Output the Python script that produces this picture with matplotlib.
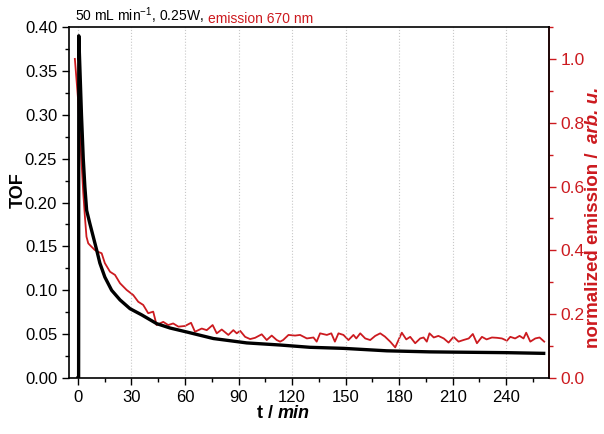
import numpy as np
import matplotlib.pyplot as plt
from matplotlib.ticker import MultipleLocator

plt.rcParams['font.family'] = ['Liberation Sans', 'DejaVu Sans']
plt.rcParams['mathtext.fontset'] = 'custom'
plt.rcParams['mathtext.rm'] = 'Liberation Sans'
plt.rcParams['mathtext.it'] = 'Liberation Sans:italic'
plt.rcParams['mathtext.bf'] = 'Liberation Sans:bold'

RED = '#cc1a1f'

# TOF (black, left axis)
t_tof = [0, 0.4, 0.5, 1, 2, 3, 3.9, 4.9, 6.7, 8.6, 10.5, 12.3, 15.1, 18.9, 23.6, 29.2,
         35.7, 44.1, 51.6, 61.9, 75.9, 94.6, 113.3, 130, 148.8, 173, 197, 210, 240, 261]
tof = [0.0, 0.0, 0.39, 0.36, 0.30, 0.25, 0.218, 0.191, 0.176, 0.161, 0.146, 0.131, 0.115,
       0.10, 0.089, 0.079, 0.072, 0.062, 0.057, 0.052, 0.045, 0.040, 0.0376, 0.035,
       0.0338, 0.031, 0.0298, 0.0295, 0.0289, 0.0281]

# normalized emission at 670 nm (red, right axis)
t_em = [-1.7, 0, 1, 2, 3, 4, 4.8, 5.8, 7, 9.5, 11.5, 13.3, 15.1, 18, 20.8, 23.6, 27.3,
        31, 33.8, 36.6, 39.4, 42.2, 44.1, 47.8, 50.6, 53.4, 56.3, 60, 63.4, 65.6, 69.4,
        72.2, 75.5, 77.8, 80.6, 84.3, 87.1, 89, 90.9, 93.7, 96.5, 99.3, 103, 105.8,
        108.6, 111.4, 113.3, 115, 118, 121.7, 124.5, 128.3, 132, 133.8, 135.7, 139.5,
        142, 144, 146, 148.8, 151.6, 154.4, 156, 158.2, 161, 163.8, 166.6, 169.4, 172,
        175, 177.8, 181.5, 184, 186.2, 189, 191.8, 193.7, 195.5, 197, 199.4, 202, 205,
        207.7, 210.5, 213.3, 216, 219, 221.3, 223.6, 226.4, 229, 232, 234.8, 237.6,
        240.4, 242.3, 245, 247.5, 249.7, 251.2, 253.5, 256.3, 258.7, 261.3]
em = [1.0, 0.88, 0.78, 0.68, 0.58, 0.50, 0.443, 0.422, 0.415, 0.401, 0.395, 0.391, 0.36,
      0.333, 0.323, 0.297, 0.276, 0.26, 0.239, 0.229, 0.203, 0.208, 0.166, 0.176, 0.166,
      0.171, 0.161, 0.163, 0.173, 0.145, 0.155, 0.15, 0.166, 0.14, 0.152, 0.135, 0.15,
      0.14, 0.148, 0.129, 0.122, 0.126, 0.137, 0.119, 0.133, 0.119, 0.114, 0.119, 0.135,
      0.133, 0.135, 0.124, 0.127, 0.114, 0.14, 0.135, 0.14, 0.114, 0.14, 0.135, 0.119,
      0.135, 0.124, 0.14, 0.124, 0.119, 0.132, 0.14, 0.13, 0.114, 0.096, 0.142, 0.121,
      0.129, 0.109, 0.124, 0.127, 0.114, 0.14, 0.127, 0.132, 0.124, 0.111, 0.129, 0.114,
      0.119, 0.124, 0.138, 0.109, 0.129, 0.121, 0.127, 0.126, 0.124, 0.117, 0.129, 0.124,
      0.132, 0.124, 0.142, 0.114, 0.124, 0.127, 0.114]

fig = plt.figure(figsize=(6.04, 4.34), dpi=100)
ax = fig.add_axes([0.1142, 0.129, 0.7948, 0.8088])
ax2 = ax.twinx()

ax.plot(t_tof, tof, color='black', lw=2.4, zorder=3)
ax2.plot(t_em, em, color=RED, lw=1.3)

ax.set_zorder(ax2.get_zorder() + 1)
ax.patch.set_visible(False)

ax.set_xlim(-5, 264)
ax.set_ylim(0, 0.4)
ax2.set_ylim(0, 1.1)

ax.xaxis.set_major_locator(MultipleLocator(30))
ax.xaxis.set_minor_locator(MultipleLocator(15))
ax.yaxis.set_major_locator(MultipleLocator(0.05))
ax.yaxis.set_minor_locator(MultipleLocator(0.025))
ax2.yaxis.set_major_locator(MultipleLocator(0.2))
ax2.yaxis.set_minor_locator(MultipleLocator(0.1))
ax.yaxis.set_major_formatter(plt.FormatStrFormatter('%.2f'))
ax2.yaxis.set_major_formatter(plt.FormatStrFormatter('%.1f'))

ax.grid(axis='x', which='major', color='#c8c8c8', ls=':', lw=0.8)

ax.tick_params(which='both', direction='out', labelsize=12, top=False, right=False)
ax.tick_params(which='major', length=5, width=1)
ax.tick_params(which='minor', length=3, width=1)
ax2.tick_params(which='both', direction='out', labelsize=12.5, colors=RED)
ax2.tick_params(which='major', length=5, width=1)
ax2.tick_params(which='minor', length=3, width=1)
ax2.spines['right'].set_color(RED)
for s in ['left', 'bottom', 'top']:
    ax2.spines[s].set_visible(False)
for s in ax.spines.values():
    s.set_linewidth(1.2)
ax2.spines['right'].set_linewidth(1.2)

ax.set_ylabel('TOF', fontsize=13, fontweight='bold')
ax.yaxis.set_label_coords(-0.088, 0.536)

# x label: "t /" bold + "min" bold italic
xl = fig.text(0.425, 0.038, 't /', fontsize=13, fontweight='bold', ha='left')
ax.annotate('min', xy=(1, 0), xycoords=xl, xytext=(3.5, 0), textcoords='offset points',
            fontsize=13, fontweight='bold', style='italic', ha='left', va='bottom',
            annotation_clip=False)

# right label: "normalized emission / " bold + "arb. u." bold italic, rotated
rl = fig.text(0.982, 0.198, 'normalized emission / ', fontsize=13.5, fontweight='bold',
              color=RED, rotation=90, va='bottom', ha='center')
ax.annotate('arb. u.', xy=(0.5, 1), xycoords=rl, xytext=(0, 3), textcoords='offset points',
            fontsize=13.5, fontweight='bold', style='italic', color=RED, rotation=90,
            ha='center', va='bottom', annotation_clip=False)

t1 = ax.annotate(r'50 mL min$^{-1}$, 0.25W,', xy=(0.012, 1.004), xycoords='axes fraction',
                 fontsize=10, color='black', va='bottom', ha='left')
ax.annotate('emission 670 nm', xy=(1, 0), xycoords=t1, xytext=(3, 0),
            textcoords='offset points', fontsize=10, color=RED, va='bottom', ha='left')

fig.savefig('out.png', dpi=100)
